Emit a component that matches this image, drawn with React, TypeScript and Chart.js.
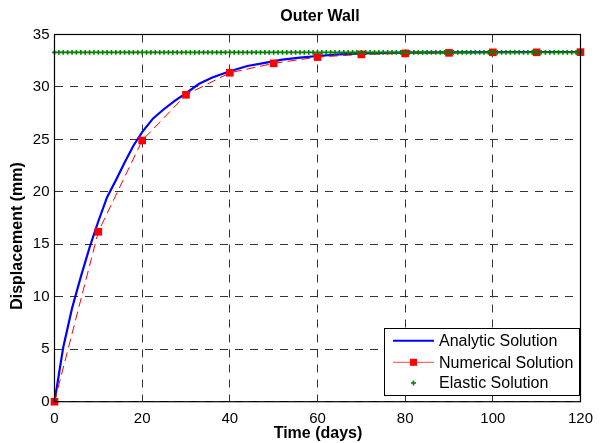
import React, { useEffect, useRef } from "react";
import { Chart, registerables } from "chart.js";

Chart.register(...registerables);

const titleText = "Outer Wall";
const xTitle = "Time (days)";
const yTitle = "Displacement (mm)";

const analyticDays = [0, 2, 4, 6, 8, 10, 12, 14, 16, 18, 20, 22.5, 25, 27.5, 30, 33, 36, 40, 44, 48, 52, 56, 60, 65, 70, 80, 90, 100, 110, 120];
const analyticValues = [0, 5.2, 8.9, 11.9, 14.7, 17.2, 19.5, 21.1, 22.8, 24.4, 25.7, 27.0, 27.9, 28.7, 29.4, 30.3, 30.9, 31.5, 32.0, 32.3, 32.6, 32.8, 32.95, 33.1, 33.2, 33.28, 33.3, 33.32, 33.33, 33.33];

const numericalDays = [0, 10, 20, 30, 40, 50, 60, 70, 80, 90, 100, 110, 120];
const numericalValues = [0, 16.2, 24.9, 29.25, 31.35, 32.25, 32.85, 33.1, 33.2, 33.25, 33.3, 33.3, 33.32];

const elasticDays = [0, 1, 2, 3, 4, 5, 6, 7, 8, 9, 10, 11, 12, 13, 14, 15, 16, 17, 18, 19, 20, 21, 22, 23, 24, 25, 26, 27, 28, 29, 30, 31, 32, 33, 34, 35, 36, 37, 38, 39, 40, 41, 42, 43, 44, 45, 46, 47, 48, 49, 50, 51, 52, 53, 54, 55, 56, 57, 58, 59, 60, 61, 62, 63, 64, 65, 66, 67, 68, 69, 70, 71, 72, 73, 74, 75, 76, 77, 78, 79, 80, 81, 82, 83, 84, 85, 86, 87, 88, 89, 90, 91, 92, 93, 94, 95, 96, 97, 98, 99, 100, 101, 102, 103, 104, 105, 106, 107, 108, 109, 110, 111, 112, 113, 114, 115, 116, 117, 118, 119, 120];
const elasticValue = 33.3;

const legendLabels = ["Analytic Solution", "Numerical Solution", "Elastic Solution"];

const FONT = "Arial, 'Liberation Sans', Helvetica, sans-serif";

const decorPlugin = {
  id: "decor",
  afterDraw(chart: any) {
    const ctx = chart.ctx;
    const a = chart.chartArea;
    ctx.save();
    // axes box
    ctx.strokeStyle = "#000";
    ctx.lineWidth = 1.2;
    ctx.setLineDash([]);
    ctx.strokeRect(a.left, a.top, a.right - a.left, a.bottom - a.top);

    // titles
    ctx.fillStyle = "#000";
    ctx.font = "bold 16px " + FONT;
    ctx.textAlign = "center";
    ctx.textBaseline = "middle";
    ctx.fillText(titleText, 320, 17);
    ctx.fillText(xTitle, 318, 434);
    ctx.save();
    ctx.translate(18, 236);
    ctx.rotate(-Math.PI / 2);
    ctx.fillText(yTitle, 0, 0);
    ctx.restore();

    // legend
    const lx = 384, ly = 328, lw = 195, lh = 67;
    ctx.fillStyle = "#fff";
    ctx.fillRect(lx, ly, lw, lh);
    ctx.strokeStyle = "#000";
    ctx.lineWidth = 1;
    ctx.strokeRect(lx + 0.5, ly + 0.5, lw, lh);
    const rows = [340.7, 362.3, 383];
    ctx.font = "16px " + FONT;
    ctx.textAlign = "left";
    ctx.textBaseline = "middle";
    // analytic
    ctx.strokeStyle = "#0000ff";
    ctx.lineWidth = 2;
    ctx.beginPath();
    ctx.moveTo(393, rows[0]);
    ctx.lineTo(434, rows[0]);
    ctx.stroke();
    // numerical
    ctx.strokeStyle = "#ff6a6a";
    ctx.lineWidth = 1.2;
    ctx.beginPath();
    ctx.moveTo(393, rows[1]);
    ctx.lineTo(434, rows[1]);
    ctx.stroke();
    ctx.fillStyle = "#ff0000";
    ctx.fillRect(413.5 - 3.5, rows[1] - 3.5, 7, 7);
    // elastic
    ctx.strokeStyle = "#008000";
    ctx.lineWidth = 1.6;
    ctx.beginPath();
    ctx.moveTo(411, rows[2]);
    ctx.lineTo(416, rows[2]);
    ctx.moveTo(413.5, rows[2] - 2.5);
    ctx.lineTo(413.5, rows[2] + 2.5);
    ctx.stroke();
    ctx.fillStyle = "#000";
    legendLabels.forEach((t, i) => ctx.fillText(t, 439, rows[i] + 1));
    ctx.restore();
  },
};

export default function App() {
  const ref = useRef<HTMLCanvasElement | null>(null);
  useEffect(() => {
    if (!ref.current) return;
    const gridCommon = {
      color: "#333",
      lineWidth: 1,
      drawTicks: false,
    };
    const chart = new Chart(ref.current, {
      type: "line",
      data: {
        datasets: [
          {
            label: legendLabels[2],
            data: elasticDays.map((d) => ({ x: d, y: elasticValue })),
            showLine: false,
            pointStyle: "cross",
            pointRadius: 2.4,
            pointBorderWidth: 1.6,
            borderColor: "#008000",
            backgroundColor: "#008000",
            order: 0,
            clip: false,
          },
          {
            label: legendLabels[1],
            data: numericalDays.map((d, i) => ({ x: d, y: numericalValues[i] })),
            borderColor: "#ff0000",
            backgroundColor: "#ff0000",
            borderWidth: 1,
            borderDash: [9, 5],
            pointStyle: "rect",
            pointRadius: 5.4,
            pointBorderWidth: 0,
            tension: 0,
            order: 1,
            clip: false,
          },
          {
            label: legendLabels[0],
            data: analyticDays.map((d, i) => ({ x: d, y: analyticValues[i] })),
            borderColor: "#0000ff",
            backgroundColor: "#0000ff",
            borderWidth: 2.2,
            pointRadius: 0,
            tension: 0,
            order: 2,
            clip: false,
          },
        ],
      },
      options: {
        animation: false,
        responsive: true,
        maintainAspectRatio: false,
        layout: { padding: { left: 0, top: 34.5, right: 16.5, bottom: 0 } },
        plugins: {
          legend: { display: false },
          title: { display: false },
          tooltip: { enabled: false },
        },
        scales: {
          x: {
            type: "linear",
            min: 0,
            max: 120,
            ticks: { stepSize: 20, color: "#000", font: { size: 15, family: FONT }, padding: 8, maxRotation: 0 },
            grid: gridCommon,
            border: { display: false, dash: [8, 7] },
            afterFit: (s: any) => {
              s.height = 41.3;
            },
          },
          y: {
            type: "linear",
            min: 0,
            max: 35,
            ticks: { stepSize: 5, color: "#000", font: { size: 15, family: FONT }, padding: 5 },
            grid: gridCommon,
            border: { display: false, dash: [8, 7] },
            afterFit: (s: any) => {
              s.width = 54.5;
            },
          },
        },
      },
      plugins: [decorPlugin],
    });
    return () => chart.destroy();
  }, []);
  return (
    <div style={{ position: "fixed", left: 0, top: 0, width: 601, height: 443, background: "#fff" }}>
      <canvas ref={ref} />
    </div>
  );
}
